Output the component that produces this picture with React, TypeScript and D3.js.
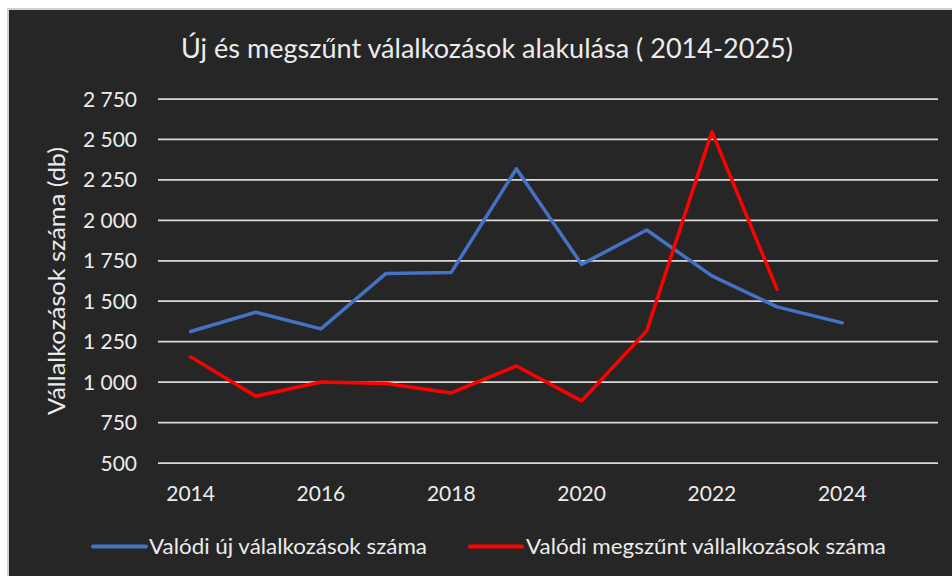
import React from "react";
import * as d3 from "d3";

const W = 952;
const H = 576;

// Évek (kategóriák) és a két sorozat értékei
const years = ["2014", "2015", "2016", "2017", "2018", "2019", "2020", "2021", "2022", "2023", "2024", "2025"];
const newCompanies = [1313, 1432, 1329, 1672, 1678, 2319, 1728, 1940, 1657, 1465, 1366, null];
const closedCompanies = [1156, 913, 1001, 991, 933, 1100, 884, 1317, 2548, 1573, null, null];

const yTicks = [500, 750, 1000, 1250, 1500, 1750, 2000, 2250, 2500, 2750];
const xTickLabels = ["2014", "2016", "2018", "2020", "2022", "2024"];

const TITLE = "Új és megszűnt válalkozások alakulása ( 2014-2025)";
const Y_LABEL = "Vállalkozások száma (db)";
const SERIES = [
  { name: "Valódi új válalkozások száma", values: newCompanies, color: "#4472C4" },
  { name: "Valódi megszűnt vállalkozások száma", values: closedCompanies, color: "#FF0000" },
];

const BG = "#262626";
const GRID = "#d9d9d9";
const TEXT = "#ececec";
const FONT = "Lato, 'Open Sans', sans-serif";

const huLocale = d3.formatLocale({ decimal: ",", thousands: " ", grouping: [3], currency: ["", " Ft"] });
const fmt = huLocale.format(",d");

export default function App() {
  const x = d3.scaleBand<string>().domain(years).range([158, 940]).padding(0);
  const y = d3.scaleLinear().domain([500, 2750]).range([463, 99]);
  const cx = (yr: string) => (x(yr) ?? 0) + x.bandwidth() / 2;

  const line = d3
    .line<number | null>()
    .defined((d) => d != null)
    .x((_, i) => cx(years[i]))
    .y((d) => y(d as number));

  return (
    <svg
      width={W}
      height={H}
      style={{ position: "absolute", left: 0, top: 0, display: "block" }}
      fontFamily={FONT}
    >
      <rect x={0} y={0} width={W} height={H} fill="#ffffff" />
      <rect x={8} y={9} width={W + 10} height={H + 10} fill={BG} stroke="#cfcfcf" strokeWidth={2} />

      {/* cím */}
      <text x={487} y={58} textAnchor="middle" fontSize={26} fill={TEXT} textLength={612} lengthAdjust="spacingAndGlyphs">
        {TITLE}
      </text>

      {/* rácsvonalak + y tengely feliratok */}
      {yTicks.map((t) => (
        <g key={t}>
          <line x1={158} x2={938} y1={y(t)} y2={y(t)} stroke={GRID} strokeWidth={1.75} />
          <text x={137} y={y(t)} dy="0.36em" textAnchor="end" fontSize={21} fill={TEXT}>
            {fmt(t)}
          </text>
        </g>
      ))}

      {/* x tengely feliratok */}
      {xTickLabels.map((t) => (
        <text key={t} x={cx(t)} y={501} textAnchor="middle" fontSize={21} fill={TEXT}>
          {t}
        </text>
      ))}

      {/* y tengely címe */}
      <text
        transform={`translate(65, ${(y(500) + y(2750)) / 2}) rotate(-90)`}
        textAnchor="middle"
        fontSize={23}
        fill={TEXT}
        textLength={268}
        lengthAdjust="spacingAndGlyphs"
      >
        {Y_LABEL}
      </text>

      {/* vonalak */}
      {SERIES.map((s) => (
        <path
          key={s.name}
          d={line(s.values) ?? ""}
          fill="none"
          stroke={s.color}
          strokeWidth={3.5}
          strokeLinejoin="round"
          strokeLinecap="round"
        />
      ))}

      {/* jelmagyarázat */}
      {[
        { x0: 93, x1: 146, tx: 149, tw: 278 },
        { x0: 470, x1: 522, tx: 526, tw: 360 },
      ].map((p, i) => (
        <g key={SERIES[i].name}>
          <line x1={p.x0} x2={p.x1} y1={546.5} y2={546.5} stroke={SERIES[i].color} strokeWidth={4} strokeLinecap="round" />
          <text x={p.tx} y={554} fontSize={22} fill={TEXT} textLength={p.tw} lengthAdjust="spacingAndGlyphs">
            {SERIES[i].name}
          </text>
        </g>
      ))}
    </svg>
  );
}
